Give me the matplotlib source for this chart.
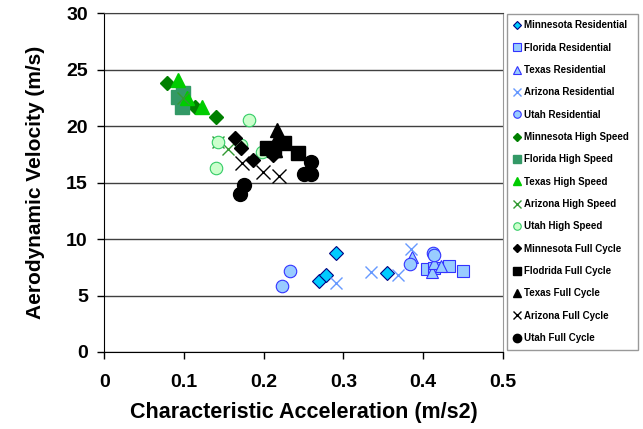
import matplotlib.pyplot as plt

# Characteristic acceleration (m/s2) and aerodynamic velocity (m/s) per series
mn_res_x = [0.290, 0.269, 0.278, 0.354]
mn_res_y = [8.74, 6.32, 6.82, 6.97]
fl_res_x = [0.405, 0.414, 0.433, 0.450]
fl_res_y = [7.32, 7.41, 7.62, 7.17]
tx_res_x = [0.386, 0.411, 0.414, 0.422]
tx_res_y = [8.44, 7.11, 7.90, 7.62]
az_res_x = [0.290, 0.334, 0.368, 0.385]
az_res_y = [6.08, 7.06, 6.82, 9.10]
ut_res_x = [0.223, 0.233, 0.383, 0.412, 0.414]
ut_res_y = [5.85, 7.20, 7.80, 8.80, 8.55]

mn_hs_x = [0.079, 0.114, 0.140]
mn_hs_y = [23.8, 21.73, 20.84]
fl_hs_x = [0.092, 0.099, 0.097]
fl_hs_y = [22.6, 22.9, 21.7]
tx_hs_x = [0.092, 0.1035, 0.122]
tx_hs_y = [24.1, 22.47, 21.7]
az_hs_x = [0.099, 0.142, 0.155]
az_hs_y = [22.47, 18.6, 17.95]
ut_hs_x = [0.182, 0.143, 0.140, 0.171, 0.198]
ut_hs_y = [20.55, 18.63, 16.27, 18.3, 17.74]

mn_fc_x = [0.164, 0.171, 0.187, 0.211]
mn_fc_y = [18.93, 18.04, 17.0, 17.45]
fl_fc_x = [0.204, 0.213, 0.225, 0.243]
fl_fc_y = [18.1, 17.9, 18.5, 17.6]
tx_fc_x = [0.216, 0.2135, 0.215]
tx_fc_y = [19.66, 17.9, 18.8]
az_fc_x = [0.173, 0.199, 0.219]
az_fc_y = [16.7, 15.97, 15.59]
ut_fc_x = [0.259, 0.250, 0.259, 0.175, 0.1706]
ut_fc_y = [16.86, 15.8, 15.8, 14.8, 14.0]

plt.rcParams['font.family'] = ['Liberation Sans', 'DejaVu Sans']
plt.rcParams['font.weight'] = 'bold'

fig = plt.figure(figsize=(6.43, 4.29), dpi=100)
ax = fig.add_axes([0.1625, 0.1795, 0.6195, 0.7895])

ax.plot(mn_res_x, mn_res_y, 'D', ms=7, mfc='#00CCFF', mec='#000080', mew=0.8, ls='none', label='Minnesota Residential')
ax.plot(fl_res_x, fl_res_y, 's', ms=9, mfc='#99CCFF', mec='#3333FF', mew=0.8, ls='none', label='Florida Residential')
ax.plot(tx_res_x, tx_res_y, '^', ms=9, mfc='#99CCFF', mec='#3333FF', mew=0.8, ls='none', label='Texas Residential')
ax.plot(az_res_x, az_res_y, 'x', ms=9, mec='#6699FF', mew=1.0, ls='none', label='Arizona Residential')
ax.plot(ut_res_x, ut_res_y, 'o', ms=9, mfc='#99CCFF', mec='#3333FF', mew=0.8, ls='none', label='Utah Residential')

ax.plot(mn_hs_x, mn_hs_y, 'D', ms=7, mfc='#008000', mec='#008000', ls='none', label='Minnesota High Speed')
ax.plot(fl_hs_x, fl_hs_y, 's', ms=10, mfc='#339966', mec='#339966', ls='none', label='Florida High Speed')
ax.plot(tx_hs_x, tx_hs_y, '^', ms=10, mfc='#00CC00', mec='#00CC00', ls='none', label='Texas High Speed')
ax.plot(az_hs_x, az_hs_y, 'x', ms=9, mec='#339933', mew=1.0, ls='none', label='Arizona High Speed')
ax.plot(ut_hs_x, ut_hs_y, 'o', ms=9, mfc='#CCFFCC', mec='#33CC66', mew=0.8, ls='none', label='Utah High Speed')

ax.plot(mn_fc_x, mn_fc_y, 'D', ms=7, mfc='black', mec='black', ls='none', label='Minnesota Full Cycle')
ax.plot(fl_fc_x, fl_fc_y, 's', ms=10, mfc='black', mec='black', ls='none', label='Flodrida Full Cycle')
ax.plot(tx_fc_x, tx_fc_y, '^', ms=10, mfc='black', mec='black', ls='none', label='Texas Full Cycle')
ax.plot(az_fc_x, az_fc_y, 'x', ms=10, mec='black', mew=1.0, ls='none', label='Arizona Full Cycle')
ax.plot(ut_fc_x, ut_fc_y, 'o', ms=10, mfc='black', mec='black', ls='none', label='Utah Full Cycle')

ax.set_xlim(0, 0.5)
ax.set_ylim(0, 30)
ax.set_xticks([0, 0.1, 0.2, 0.3, 0.4, 0.5])
ax.set_xticklabels(['0', '0.1', '0.2', '0.3', '0.4', '0.5'])
ax.set_yticks([0, 5, 10, 15, 20, 25, 30])
ax.yaxis.grid(True, color='#404040', lw=1)
ax.set_axisbelow(True)
ax.tick_params(labelsize=14, length=5, width=1, direction='out')
ax.tick_params(axis='x', pad=11)
ax.tick_params(axis='y', pad=7)
for lab in ax.get_xticklabels() + ax.get_yticklabels():
    lab.set_fontweight('bold')

ax.spines['left'].set_color('black')
ax.spines['bottom'].set_color('black')
ax.spines['top'].set_color('#404040')
ax.spines['right'].set_color('#999999')

ax.set_xlabel('Characteristic Acceleration (m/s2)', fontsize=15.5, fontweight='bold', labelpad=8)
ax.set_ylabel('Aerodynamic Velocity (m/s)', fontsize=15, fontweight='bold', labelpad=15)

leg = fig.legend(loc='upper left', bbox_to_anchor=(507 / 643, 1 - 14 / 429, 131 / 643, 0),
                 mode='expand', borderaxespad=0, fontsize=7, markerscale=0.6,
                 handlelength=0.8, handletextpad=0.3, labelspacing=1.27,
                 frameon=True, fancybox=False, edgecolor='#808080', borderpad=0.65)
leg.get_frame().set_linewidth(1)
for t in leg.get_texts():
    t.set_fontweight('bold')

fig.savefig('out.png', dpi=100)
